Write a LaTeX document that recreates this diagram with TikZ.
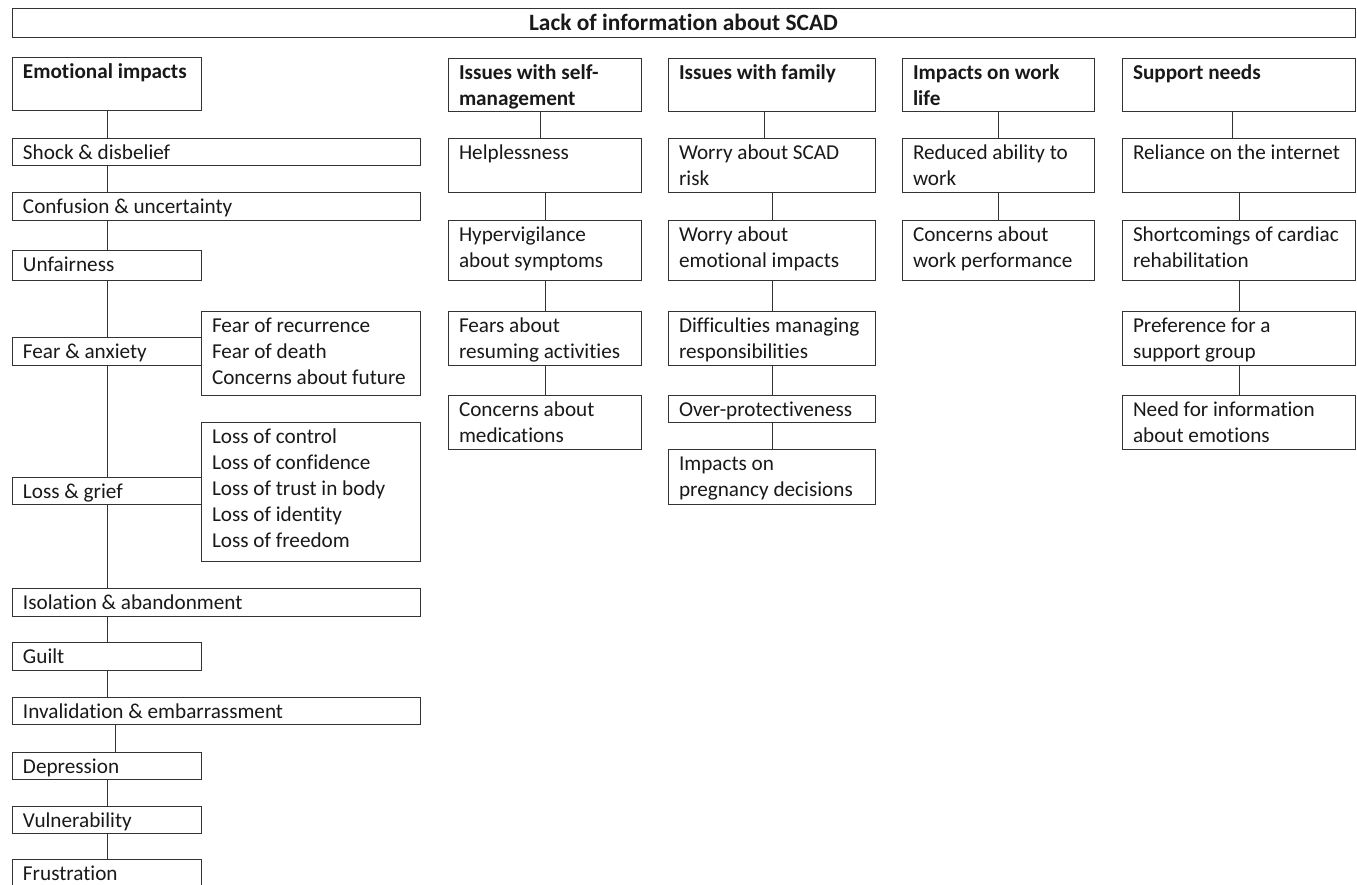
\documentclass[tikz,border=0pt]{standalone}
\usepackage{fontspec}
\setmainfont{Carlito}[Ligatures=NoCommon]
\usetikzlibrary{calc}
\tikzset{
  boxst/.style={draw=black!80, line width=1pt, inner sep=0pt, outer sep=0pt, fill=none},
  txt/.style={anchor=base west, inner sep=0pt, outer sep=0pt, font=\fontsize{21.2}{26}\selectfont, text=black!90},
  link/.style={draw=black!80, line width=1pt},
}
\newcommand{\bx}[7][]{%
  \node[boxst, minimum width=#4-#2, minimum height=#5-#3, anchor=north west] (#1#6) at (#2,#3) {};
  \node[txt] (#6-t) at ([xshift=11pt,yshift=-21pt]#6.north west)
    {\begin{minipage}[t]{300pt}\raggedright #7\end{minipage}};}
\begin{document}
\begin{tikzpicture}[x=1pt,y=-1pt]
\useasboundingbox (0,0) rectangle (1357,884);
\clip (0,0) rectangle (1357,884);
\fill[white] (0,0) rectangle (1357,884);
% title
\node[boxst, minimum width=1343, minimum height=29, anchor=north west] (title) at (12,8) {};
\node[txt, anchor=base, font=\fontsize{23.4}{28}\selectfont\bfseries] (title-t) at (683.5,30) {Lack of information about SCAD};
% emotional column
\bx{12}{57}{201}{110}{emo}{\bfseries Emotional impacts}
\bx{12}{138}{420}{165}{shock}{Shock \& disbelief}
\bx{12}{192}{420}{220}{conf}{Confusion \& uncertainty}
\bx{12}{250}{201}{280}{unfair}{Unfairness}
\bx{12}{337}{201}{365}{fear}{Fear \& anxiety}
\bx{201}{311}{420}{395}{fearsub}{Fear of recurrence\\Fear of death\\Concerns about future}
\bx{12}{477}{201}{504}{loss}{Loss \& grief}
\bx{201}{422}{420}{561}{losssub}{Loss of control\\Loss of confidence\\Loss of trust in body\\Loss of identity\\Loss of freedom}
\bx{12}{588}{420}{616}{iso}{Isolation \& abandonment}
\bx{12}{642}{201}{670}{guilt}{Guilt}
\bx{12}{697}{420}{724}{inval}{Invalidation \& embarrassment}
\bx{12}{752}{201}{779}{dep}{Depression}
\bx{12}{806}{201}{833}{vul}{Vulnerability}
\bx{12}{859}{201}{900}{frus}{Frustration}
% self-management column
\bx{448}{58}{641}{111}{sm}{\bfseries Issues with self-\\management}
\bx{448}{138}{641}{192}{help}{Helplessness}
\bx{448}{220}{641}{280}{hyper}{Hypervigilance\\about symptoms}
\bx{448}{311}{641}{365}{fears}{Fears about\\resuming activities}
\bx{448}{395}{641}{449}{meds}{Concerns about\\medications}
% family column
\bx{668}{58}{875}{111}{fam}{\bfseries Issues with family}
\bx{668}{138}{875}{192}{wscad}{Worry about SCAD\\risk}
\bx{668}{220}{875}{280}{wemo}{Worry about\\emotional impacts}
\bx{668}{311}{875}{365}{diff}{Difficulties managing\\responsibilities}
\bx{668}{395}{875}{422}{over}{Over-protectiveness}
\bx{668}{449}{875}{504}{preg}{Impacts on\\pregnancy decisions}
% work column
\bx{902}{58}{1094}{111}{work}{\bfseries Impacts on work\\life}
\bx{902}{138}{1094}{192}{red}{Reduced ability to\\work}
\bx{902}{220}{1094}{280}{cwork}{Concerns about\\work performance}
% support column
\bx{1122}{58}{1355}{111}{sup}{\bfseries Support needs}
\bx{1122}{138}{1355}{192}{rel}{Reliance on the internet}
\bx{1122}{220}{1355}{280}{short}{Shortcomings of cardiac\\rehabilitation}
\bx{1122}{311}{1355}{365}{pref}{Preference for a\\support group}
\bx{1122}{395}{1355}{449}{need}{Need for information\\about emotions}
% connectors
\foreach \a/\b/\s in {emo/shock/95, shock/conf/95, conf/unfair/95, unfair/fear/95, fear/loss/95, loss/iso/95, iso/guilt/95, guilt/inval/95, inval/dep/103, dep/vul/95, vul/frus/95,
  sm/help/92, help/hyper/97, hyper/fears/97, fears/meds/97,
  fam/wscad/96, wscad/wemo/104, wemo/diff/104, diff/over/104, over/preg/104,
  work/red/96, red/cwork/96,
  sup/rel/110, rel/short/117, short/pref/117, pref/need/117}
  \draw[link] ([xshift=\s pt]\a.south west) -- ([xshift=\s pt]\b.north west);
\end{tikzpicture}
\end{document}
